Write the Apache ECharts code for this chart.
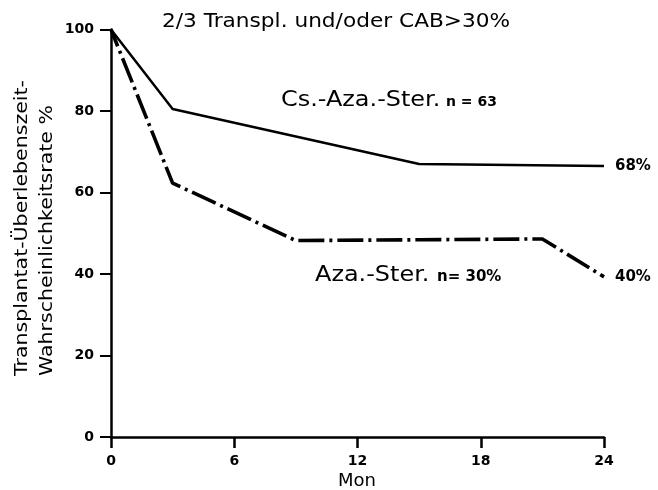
<!DOCTYPE html>
<html>
<head>
<meta charset="utf-8">
<script src="https://cdn.jsdelivr.net/npm/echarts@6/dist/echarts.min.js"></script>
<style>html,body{margin:0;padding:0;background:#fff}#c{width:658px;height:490px}</style>
</head>
<body>
<div id="c"></div>
<script>
var monthTicks = [0, 6, 12, 18, 24];
var csAzaSter = [[0, 100], [3, 80.5], [15, 67], [24, 66.5]];
var azaSter = [[0, 100], [3, 62.3], [9, 48.2], [15, 48.4], [21, 48.6], [24, 39.3]];
var endLabels = ['68%', '40%'];
var titleText = '2/3 Transpl. und/oder CAB>30%';
var yTitle1 = 'Transplantat-Überlebenszeit-';
var yTitle2 = 'Wahrscheinlichkeitsrate %';
var xTitle = 'Mon';
var groupNames = ['Cs.-Aza.-Ster.', 'Aza.-Ster.'];
var groupNotes = ['n = 63', 'n= 30%'];

var FONT = 'DejaVu Sans';
var SX = 1.14;
function txt(x, y, s, size, weight, align, extra) {
  var o = {type: 'text', x: x, y: y, scaleX: SX, style: {text: s, font: (weight || 'normal') + ' ' + size + 'px "DejaVu Sans"', fill: '#000', textAlign: align || 'left', textVerticalAlign: 'middle'}};
  if (extra) { for (var k in extra) o[k] = extra[k]; }
  return o;
}
var chart = echarts.init(document.getElementById('c'));
chart.setOption({
  animation: false,
  backgroundColor: '#fff',
  grid: {left: 111, right: 54, top: 29.5, bottom: 53, containLabel: false},
  xAxis: {
    type: 'value', min: 0, max: 24, interval: 6,
    axisLine: {show: true, onZero: false, lineStyle: {color: '#000', width: 2.5}},
    axisTick: {show: true, length: 11, lineStyle: {color: '#000', width: 2.5}},
    axisLabel: {color: '#000', fontFamily: FONT, fontWeight: 'bold', fontSize: 14, margin: 17},
    splitLine: {show: false}
  },
  yAxis: {
    type: 'value', min: 0, max: 100, interval: 20,
    axisLine: {show: true, lineStyle: {color: '#000', width: 2.5}},
    axisTick: {show: true, length: 11, lineStyle: {color: '#000', width: 2}},
    axisLabel: {color: '#000', fontFamily: FONT, fontWeight: 'bold', fontSize: 14, margin: 17},
    splitLine: {show: false}
  },
  graphic: [
    txt(336, 22, titleText, 19, 'normal', 'center'),
    txt(357, 481, xTitle, 18, 'normal', 'center', {scaleX: 1}),
    txt(22, 376, yTitle1, 18, 'normal', 'left', {rotation: Math.PI / 2}),
    txt(47, 376, yTitle2, 18, 'normal', 'left', {rotation: Math.PI / 2}),
    txt(281, 101, groupNames[0], 21, 'normal', 'left'),
    txt(446, 102, groupNotes[0], 14, 'bold', 'left', {scaleX: 1}),
    txt(315, 276, groupNames[1], 21, 'normal', 'left'),
    txt(437, 277, groupNotes[1], 15, 'bold', 'left', {scaleX: 1})
  ],
  series: [
    {
      type: 'line', data: csAzaSter, symbol: 'none',
      lineStyle: {color: '#000', width: 2.5},
      endLabel: {show: true, formatter: endLabels[0], color: '#000', fontFamily: FONT, fontWeight: 'bold', fontSize: 15, distance: 11}
    },
    {
      type: 'line', data: azaSter, symbol: 'none',
      lineStyle: {color: '#000', width: 3.6, type: [26, 5, 3, 5], dashOffset: 8},
      endLabel: {show: true, formatter: endLabels[1], color: '#000', fontFamily: FONT, fontWeight: 'bold', fontSize: 15, distance: 11, offset: [0, 0]}
    }
  ]
});
</script>
</body>
</html>
